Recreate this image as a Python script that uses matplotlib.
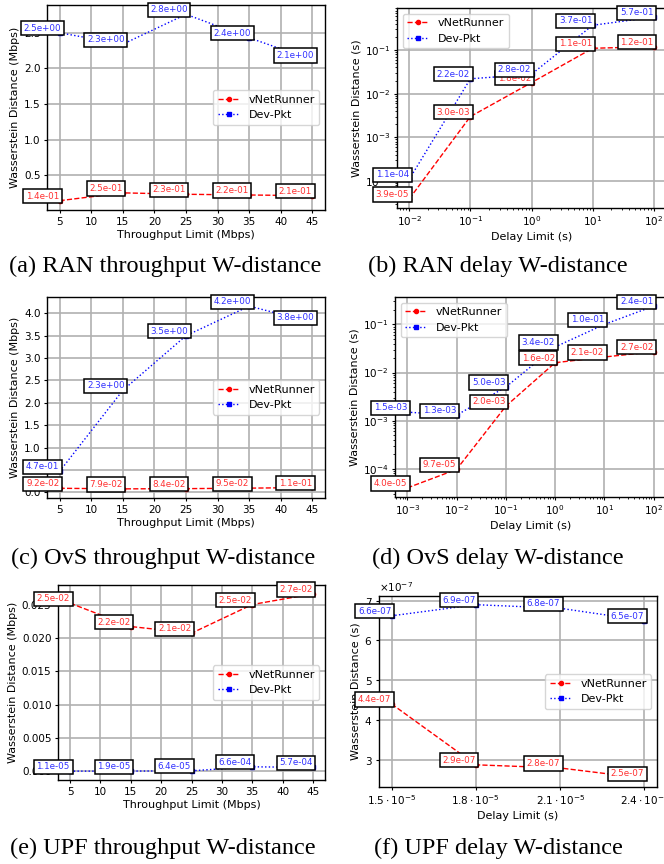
import matplotlib
matplotlib.use("Agg")
import matplotlib.pyplot as plt
from matplotlib.ticker import FuncFormatter, ScalarFormatter

# -----------------------------
# Data
# -----------------------------
tput_limits = [5, 15, 25, 35, 45]
ran_delay_limits = [1e-2, 1e-1, 1e0, 1e1, 1e2]
ovs_delay_limits = [1e-3, 1e-2, 1e-1, 1e0, 1e1, 1e2]
upf_delay_limits = [1.5e-5, 1.8e-5, 2.1e-5, 2.4e-5]

ran_tput_vnet = [0.14, 0.25, 0.23, 0.22, 0.21]
ran_tput_devpkt = [2.5, 2.34, 2.76, 2.43, 2.12]
ran_delay_vnet = [3.9e-5, 3.0e-3, 1.8e-2, 1.1e-1, 1.2e-1]
ran_delay_devpkt = [1.1e-4, 2.2e-2, 2.8e-2, 3.7e-1, 5.7e-1]

ovs_tput_vnet = [0.092, 0.079, 0.084, 0.095, 0.11]
ovs_tput_devpkt = [0.47, 2.28, 3.5, 4.16, 3.8]
ovs_delay_vnet = [4.0e-5, 9.7e-5, 2.0e-3, 1.6e-2, 2.1e-2, 2.7e-2]
ovs_delay_devpkt = [1.5e-3, 1.3e-3, 5.0e-3, 3.4e-2, 1.0e-1, 2.4e-1]

upf_tput_vnet = [0.0252, 0.0217, 0.0207, 0.0250, 0.0266]
upf_tput_devpkt = [1.1e-5, 1.9e-5, 6.4e-5, 6.6e-4, 5.7e-4]
upf_delay_vnet = [4.4e-7, 2.87e-7, 2.79e-7, 2.53e-7]
upf_delay_devpkt = [6.62e-7, 6.9e-7, 6.81e-7, 6.5e-7]

captions = [
    "(a) RAN throughput W-distance",
    "(b) RAN delay W-distance",
    "(c) OvS throughput W-distance",
    "(d) OvS delay W-distance",
    "(e) UPF throughput W-distance",
    "(f) UPF delay W-distance",
]

W, H = 664, 864
fig = plt.figure(figsize=(W / 100, H / 100), dpi=100)


def px_axes(left, top, right, bottom):
    return fig.add_axes([left / W, 1 - bottom / H, (right - left) / W, (bottom - top) / H])


def annotate_points(ax, xs, ys, color):
    for x, y in zip(xs, ys):
        ax.annotate(f"{y:.1e}", (x, y), xytext=(-12.2, 3.2), textcoords="offset points",
                    ha="center", va="center", fontsize=6.3, color=color,
                    bbox=dict(boxstyle="square,pad=0.3", fc="white", ec="black", lw=1.1),
                    annotation_clip=False, zorder=5)


def draw_panel(ax, xs, vnet, devpkt, xlabel, ylabel, legend_loc, log=False):
    ax.plot(xs, vnet, "--o", color="red", lw=1.0, ms=3, label="vNetRunner")
    ax.plot(xs, devpkt, ":s", color="blue", lw=1.0, ms=3, label="Dev-Pkt")
    if log:
        ax.set_xscale("log")
        ax.set_yscale("log")
    annotate_points(ax, xs, vnet, "#ff3030")
    annotate_points(ax, xs, devpkt, "#3030ff")
    ax.set_xlabel(xlabel, fontsize=8, labelpad=2.5)
    ax.set_ylabel(ylabel, fontsize=8, labelpad=2.5)
    ax.tick_params(which="major", labelsize=7.5, length=2.5, pad=2.2)
    ax.tick_params(which="minor", length=1.5)
    ax.grid(True, color="#b0b0b0", lw=1.2)
    ax.legend(loc=legend_loc, fontsize=8)
    for s in ax.spines.values():
        s.set_linewidth(1.0)


tput_x = "Throughput Limit (Mbps)"
delay_x = "Delay Limit (s)"
tput_y = "Wasserstein Distance (Mbps)"
delay_y = "Wasserstein Distance (s)"

# (a)
ax = px_axes(47, 5, 325, 210)
draw_panel(ax, tput_limits, ran_tput_vnet, ran_tput_devpkt, tput_x, tput_y, "center right")
ax.set_xticks(range(5, 50, 5))

# (b)
ax = px_axes(397, 8, 666, 208)
draw_panel(ax, ran_delay_limits, ran_delay_vnet, ran_delay_devpkt, delay_x, delay_y,
           "upper left", log=True)

# (c)
ax = px_axes(47, 297, 325, 498)
draw_panel(ax, tput_limits, ovs_tput_vnet, ovs_tput_devpkt, tput_x, tput_y, "center right")
ax.set_xticks(range(5, 50, 5))

# (d)
ax = px_axes(395, 297, 666, 497)
draw_panel(ax, ovs_delay_limits, ovs_delay_vnet, ovs_delay_devpkt, delay_x, delay_y,
           "upper left", log=True)

# (e)
ax = px_axes(58, 585, 325, 780)
draw_panel(ax, tput_limits, upf_tput_vnet, upf_tput_devpkt, tput_x, tput_y, "center right")
ax.set_xticks(range(5, 50, 5))

# (f)
ax = px_axes(379, 596, 657, 787)
draw_panel(ax, upf_delay_limits, upf_delay_vnet, upf_delay_devpkt, delay_x, delay_y,
           "center right")
ax.set_xticks(upf_delay_limits)
ax.xaxis.set_major_formatter(FuncFormatter(lambda v, p: f"${v * 1e5:.1f}\\cdot10^{{-5}}$"))
fmt = ScalarFormatter(useMathText=True)
fmt.set_powerlimits((0, 0))
ax.yaxis.set_major_formatter(fmt)
ax.yaxis.get_offset_text().set_fontsize(7.5)

# captions
cap_pos = [(165, 266), (498, 266), (163, 558), (498, 558), (163, 848), (498, 848)]
for (cx, cy), text in zip(cap_pos, captions):
    fig.text(cx / W, 1 - cy / H, text, ha="center", va="center", fontsize=17.5,
             family="Liberation Serif")

fig.savefig("out.png", dpi=100)
